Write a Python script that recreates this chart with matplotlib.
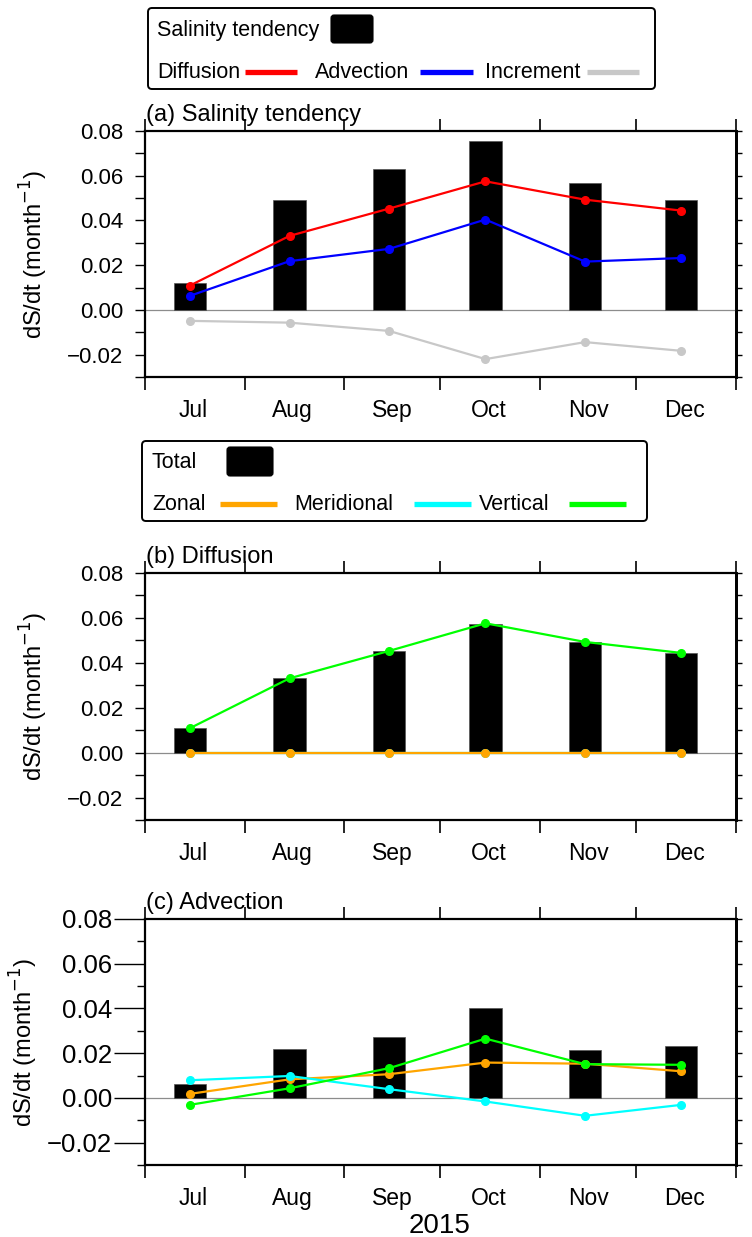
import datetime as dt
import matplotlib
matplotlib.use("Agg")
import matplotlib.pyplot as plt
from matplotlib.patches import FancyBboxPatch
from matplotlib.ticker import MultipleLocator, NullFormatter

plt.rcParams['font.family'] = ['Liberation Sans', 'DejaVu Sans']

# ---- data -------------------------------------------------------------
months = ["Jul", "Aug", "Sep", "Oct", "Nov", "Dec"]
year = 2015
month_numbers = [7, 8, 9, 10, 11, 12]

# (a) total tendency and its budget terms
tendency = [0.0122, 0.0492, 0.0630, 0.0757, 0.0566, 0.0492]
diffusion = [0.0109, 0.0331, 0.0453, 0.0575, 0.0493, 0.0444]
advection = [0.0063, 0.0218, 0.0273, 0.0404, 0.0216, 0.0232]
increment = [-0.0049, -0.0057, -0.0094, -0.0220, -0.0144, -0.0183]

# (b) diffusion split by direction
diff_zonal = [0.0, 0.0, 0.0, 0.0, 0.0, 0.0]
diff_merid = [0.0, 0.0, 0.0, 0.0, 0.0, 0.0]
diff_vert = [0.0109, 0.0331, 0.0453, 0.0576, 0.0493, 0.0444]

# (c) advection split by direction
adv_zonal = [0.0018, 0.0083, 0.0106, 0.0158, 0.0153, 0.0119]
adv_merid = [0.0079, 0.0098, 0.0039, -0.0016, -0.0080, -0.0031]
adv_vert = [-0.0031, 0.0043, 0.0133, 0.0265, 0.0151, 0.0148]

# ---- figure -----------------------------------------------------------
W, H = 752, 1237
fig = plt.figure(figsize=(W / 100, H / 100), dpi=100)


def fx(px):
    return px / W


def fy(py):
    return 1 - py / H


dates = [dt.date(year, m, 15) for m in month_numbers]
label_dates = [dt.date(year, m, 16) for m in month_numbers]
month_starts = [dt.date(year, m, 1) for m in month_numbers] + [dt.date(year + 1, 1, 1)]

C_RED, C_BLUE, C_GRAY = "#ff0000", "#0000ff", "#c8c8c8"
C_ORANGE, C_CYAN, C_GREEN = "#ffa500", "#00ffff", "#00ff00"


def make_panel(top_px, bottom_px, bars, series, title, tick_fs, big_ticks, ylabel_x):
    ax = fig.add_axes([fx(145), fy(bottom_px), fx(736) - fx(145),
                       fy(top_px) - fy(bottom_px)])
    ax.bar(dates, bars, width=10, color="black", edgecolor="#555555",
           linewidth=0.5, zorder=2)
    ax.axhline(0, color="#8c8c8c", lw=0.9, zorder=1)
    for vals, col in series:
        ax.plot(dates, vals, color=col, lw=1.6, marker="o", ms=5.5,
                zorder=3, clip_on=False)
    ax.set_xlim(dt.date(year, 7, 1), dt.date(year + 1, 1, 1))
    ax.set_ylim(-0.03, 0.08)

    # x axis: boundary ticks at month starts, labels mid-month
    ax.set_xticks(month_starts)
    ax.xaxis.set_major_formatter(NullFormatter())
    ax.set_xticks(label_dates, minor=True)
    ax.set_xticklabels(months, minor=True, fontsize=16.5)
    ax.tick_params(axis="x", which="major", direction="out", length=9,
                   width=1.2, top=True, bottom=True)
    ax.tick_params(axis="x", which="minor", length=0, pad=16)

    # y axis
    ax.yaxis.set_major_locator(MultipleLocator(0.02))
    ax.yaxis.set_minor_locator(MultipleLocator(0.01))
    ax.yaxis.set_major_formatter(plt.FuncFormatter(
        lambda v, p: ("\u2212" if v < -1e-9 else "") + f"{abs(v):.2f}"))
    if big_ticks:
        ax.tick_params(axis="y", which="major", direction="out", length=22,
                       width=1.0, labelsize=tick_fs, pad=1.5)
        ax.tick_params(axis="y", which="minor", direction="out", length=6,
                       width=1.0)
    else:
        ax.tick_params(axis="y", which="major", direction="out", length=7.5,
                       width=1.0, labelsize=tick_fs, pad=8)
        ax.tick_params(axis="y", which="minor", direction="out", length=7.5,
                       width=1.0)
    ax.tick_params(axis="y", which="both", right=False)

    # right-hand ticks, shorter and unlabelled
    sec = ax.secondary_yaxis("right")
    sec.yaxis.set_major_locator(MultipleLocator(0.02))
    sec.yaxis.set_minor_locator(MultipleLocator(0.01))
    sec.yaxis.set_major_formatter(NullFormatter())
    sec.tick_params(axis="y", which="both", direction="out", length=4.5,
                    width=1.0)
    sec.spines["right"].set_linewidth(2.0)

    for s in ax.spines.values():
        s.set_linewidth(1.6)
    ax.spines["right"].set_linewidth(2.0)

    fig.text(fx(146), fy(top_px - 10), title, fontsize=17,
             ha="left", va="baseline")
    fig.text(fx(ylabel_x), fy((top_px + bottom_px) / 2),
             "dS/dt (month$^{-1}$)", rotation=90, fontsize=17,
             ha="center", va="center")
    return ax


make_panel(131, 377, tendency,
           [(diffusion, C_RED), (advection, C_BLUE), (increment, C_GRAY)],
           "(a) Salinity tendency", 16, False, 34)
make_panel(573, 820, diffusion,
           [(diff_merid, C_CYAN), (diff_vert, C_GREEN), (diff_zonal, C_ORANGE)],
           "(b) Diffusion", 16, False, 34)
make_panel(919, 1165, advection,
           [(adv_zonal, C_ORANGE), (adv_merid, C_CYAN), (adv_vert, C_GREEN)],
           "(c) Advection", 18.5, True, 24)
fig.text(fx(440), fy(1233), str(year), fontsize=20, ha="center", va="baseline")


# ---- legends ------------------------------------------------------------
def legend_box(x0, y0, x1, y1):
    lax = fig.add_axes([fx(x0), fy(y1), fx(x1) - fx(x0), fy(y0) - fy(y1)])
    lax.set_xlim(x0, x1)
    lax.set_ylim(y1, y0)
    lax.axis("off")
    lax.add_patch(FancyBboxPatch((x0 + 1, y0 + 1), x1 - x0 - 2, y1 - y0 - 2,
                                 boxstyle="round,pad=0,rounding_size=4",
                                 fc="white", ec="black", lw=1.4,
                                 clip_on=False))
    return lax


def legend_text(lax, x, y, s):
    lax.text(x, y, s, fontsize=15.5, ha="left", va="baseline")


def legend_line(lax, x0, x1, y, col):
    lax.plot([x0, x1], [y, y], color=col, lw=3.8, solid_capstyle="butt")


def legend_bar(lax, x0, x1, y0, y1):
    lax.add_patch(FancyBboxPatch((x0, y0), x1 - x0, y1 - y0,
                                 boxstyle="round,pad=0,rounding_size=3",
                                 fc="black", ec="black", lw=0.8))


l1 = legend_box(147, 7, 656, 90)
legend_text(l1, 157, 36, "Salinity tendency")
legend_bar(l1, 331, 373, 15, 43)
legend_text(l1, 157, 78, "Diffusion")
legend_line(l1, 245, 297, 72, C_RED)
legend_text(l1, 315, 78, "Advection")
legend_line(l1, 420, 473, 72, C_BLUE)
legend_text(l1, 485, 78, "Increment")
legend_line(l1, 587, 639, 72, C_GRAY)

l2 = legend_box(141, 440, 648, 522)
legend_text(l2, 152, 468, "Total")
legend_bar(l2, 227, 273, 447, 476)
legend_text(l2, 152, 510, "Zonal")
legend_line(l2, 220, 277, 504, C_ORANGE)
legend_text(l2, 294, 510, "Meridional")
legend_line(l2, 414, 471, 504, C_CYAN)
legend_text(l2, 479, 510, "Vertical")
legend_line(l2, 569, 626, 504, C_GREEN)

fig.savefig("out.png", dpi=100)
